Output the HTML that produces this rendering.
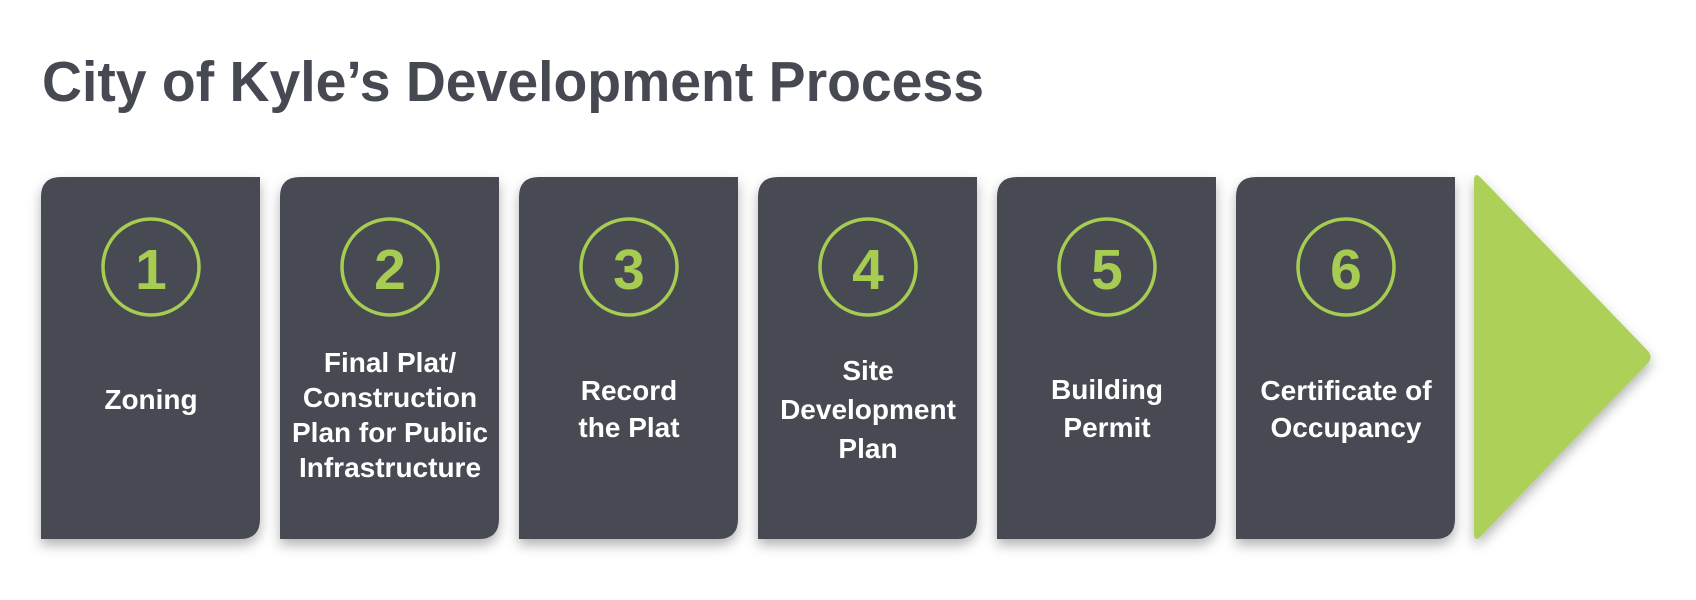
<!DOCTYPE html>
<html><head><meta charset="utf-8"><style>
html,body{margin:0;padding:0;background:#fff;width:1696px;height:600px;overflow:hidden}
svg{display:block}
</style></head><body>
<svg width="1696" height="600" viewBox="0 0 1696 600" xmlns="http://www.w3.org/2000/svg">
<defs>
<filter id="sh" x="-20%" y="-20%" width="140%" height="140%">
<feDropShadow dx="0" dy="6" stdDeviation="6" flood-color="#000" flood-opacity="0.3"/>
</filter>
</defs>
<text x="42" y="101" font-family="Liberation Sans, sans-serif" font-weight="bold" font-size="57" fill="#464852" textLength="942" lengthAdjust="spacingAndGlyphs">City of Kyle’s Development Process</text>
<g font-family="Liberation Sans, sans-serif" font-weight="bold" text-anchor="middle">
<g id="cards" fill="#464852" filter="url(#sh)">
<path d="M61,177 H260 V519 Q260,539 240,539 H41 V197 Q41,177 61,177Z"/>
<path d="M300,177 H499 V519 Q499,539 479,539 H280 V197 Q280,177 300,177Z"/>
<path d="M539,177 H738 V519 Q738,539 718,539 H519 V197 Q519,177 539,177Z"/>
<path d="M778,177 H977 V519 Q977,539 957,539 H758 V197 Q758,177 778,177Z"/>
<path d="M1017,177 H1216 V519 Q1216,539 1196,539 H997 V197 Q997,177 1017,177Z"/>
<path d="M1256,177 H1455 V519 Q1455,539 1435,539 H1236 V197 Q1236,177 1256,177Z"/>
<path d="M1474,181 Q1474,170 1482,179 L1648,351 Q1653,357 1648,363 L1482,535 Q1474,544 1474,533 Z" fill="#acd058"/>
</g>
<g fill="none" stroke="#a6cc52" stroke-width="3.5">
<circle cx="151" cy="267" r="48"/><circle cx="390" cy="267" r="48"/><circle cx="629" cy="267" r="48"/>
<circle cx="868" cy="267" r="48"/><circle cx="1107" cy="267" r="48"/><circle cx="1346" cy="267" r="48"/>
</g>
<g fill="#a6cc52" font-size="57">
<text x="151" y="289">1</text><text x="390" y="289">2</text><text x="629" y="289">3</text>
<text x="868" y="289">4</text><text x="1107" y="289">5</text><text x="1346" y="289">6</text>
</g>
<g fill="#fff" font-size="28">
<text x="151" y="409">Zoning</text>
<text x="390" y="372">Final Plat/</text><text x="390" y="407">Construction</text><text x="390" y="442">Plan for Public</text><text x="390" y="477">Infrastructure</text>
<text x="629" y="400">Record</text><text x="629" y="437">the Plat</text>
<text x="868" y="380">Site</text><text x="868" y="419">Development</text><text x="868" y="458">Plan</text>
<text x="1107" y="399">Building</text><text x="1107" y="437">Permit</text>
<text x="1346" y="400">Certificate of</text><text x="1346" y="437">Occupancy</text>
</g>
</g>
</svg>
</body></html>
